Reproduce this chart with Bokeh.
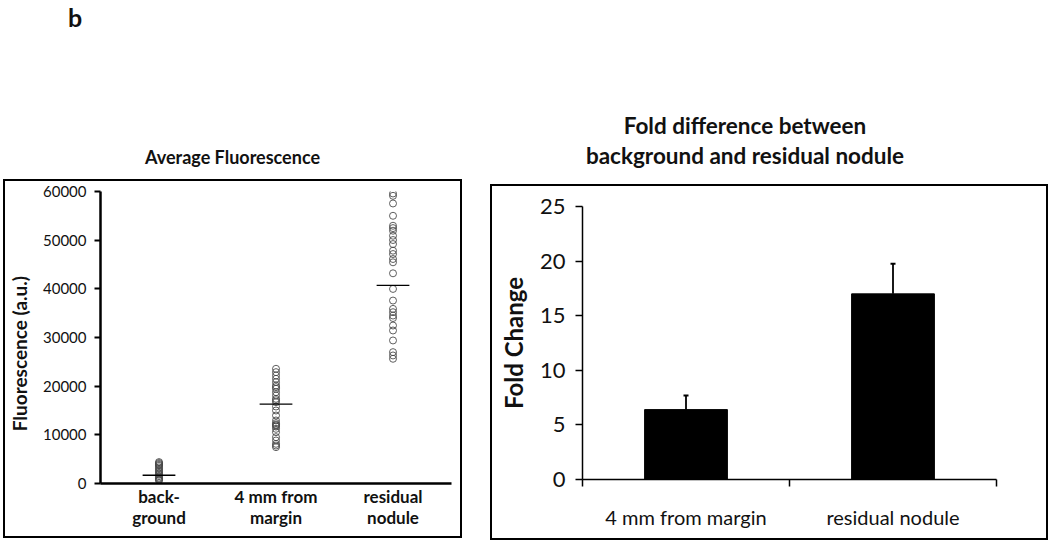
from bokeh.plotting import figure
from bokeh.models import Range1d, FixedTicker, Div, Row, Column
from bokeh.embed import file_html
from bokeh.resources import INLINE

FONT = "Lato"
INK = "#111111"

# ---------------- Left panel data ----------------
scatter_groups = ["back-\nground", "4 mm from\nmargin", "residual\nnodule"]
background = [4400, 4200, 4000, 3800, 3600, 3300, 3000, 2700, 2400, 2100,
              1800, 1500, 1200, 1000, 800, 600]
from_margin = [23570, 22880, 22190, 21510, 20820, 20140, 19800, 19460, 18770,
               18080, 17400, 17100, 16710, 15820, 15000, 13970, 12950, 12400,
               12100, 11920, 11700, 11230, 10550, 9520, 8840, 8150, 7800, 7470]
residual = [59590, 59110, 57540, 55010, 52960, 52480, 51940, 50910, 50030,
            49200, 47840, 47150, 46130, 45450, 43190, 39980, 37590, 35880,
            35200, 34510, 34000, 32460, 31440, 29390, 26990, 26310, 25630]
group_means = [1700, 16300, 40700]
left_y_ticks = [0, 10000, 20000, 30000, 40000, 50000, 60000]

# ---------------- Right panel data ----------------
bar_categories = ["4 mm from margin", "residual nodule"]
fold_change = [6.4, 17.0]
fold_error = [1.3, 2.75]
right_y_ticks = [0, 5, 10, 15, 20, 25]

# ---------------- Left panel ----------------
n1 = len(scatter_groups)
p1 = figure(width=459, height=359, x_range=Range1d(0, n1), y_range=Range1d(0, 60000),
            output_backend="svg", toolbar_location=None,
            min_border_left=95, min_border_right=13, min_border_top=10, min_border_bottom=57,
            styles={"border": "2px solid black"}, margin=0)
p1.grid.visible = False
p1.outline_line_color = None

pos1 = [i + 0.5 for i in range(n1)]
xs, ys = [], []
for i, vals in enumerate([background, from_margin, residual]):
    xs += [pos1[i]] * len(vals)
    ys += vals
p1.scatter(xs, ys, marker="circle", size=7, fill_color=None,
           line_color="#444444", line_width=1.0, line_alpha=0.85)
p1.segment(x0=[p - 0.14 for p in pos1], x1=[p + 0.14 for p in pos1],
           y0=group_means, y1=group_means, line_color="black", line_width=1.3)

ya = p1.yaxis[0]
ya.ticker = FixedTicker(ticks=left_y_ticks)
ya.axis_line_width = 2.5
ya.major_tick_line_width = 2
ya.major_tick_out = 6
ya.major_tick_in = 0
ya.minor_tick_line_color = None
ya.major_label_text_font = FONT
ya.major_label_text_font_size = "15px"
ya.major_label_text_color = INK
ya.major_label_standoff = 8
ya.axis_label = "Fluorescence (a.u.)" + "\u00a0" * 7
ya.axis_label_text_font = FONT
ya.axis_label_text_font_style = "bold"
ya.axis_label_text_font_size = "19px"
ya.axis_label_text_color = INK
ya.axis_label_standoff = 9

xa = p1.xaxis[0]
xa.ticker = FixedTicker(ticks=pos1)
xa.major_label_overrides = {p: g for p, g in zip(pos1, scatter_groups)}
xa.major_tick_line_color = None
xa.minor_tick_line_color = None
xa.major_tick_out = 0
xa.major_tick_in = 0
xa.axis_line_width = 2.5
xa.major_label_text_font = FONT
xa.major_label_text_font_style = "bold"
xa.major_label_text_font_size = "17px"
xa.major_label_text_color = INK
xa.major_label_text_line_height = 1.03
xa.major_label_standoff = 2

left_head = Div(width=459, height=179, margin=0, text=(
    '<div style="position:relative;width:459px;height:179px;font-family:Lato;color:#111;">'
    '<div style="position:absolute;left:65px;top:0px;font-weight:bold;font-size:25px;">b</div>'
    '<div style="position:absolute;left:0;width:459px;top:145px;text-align:center;'
    'font-weight:bold;font-size:18px;">Average Fluorescence</div>'
    '</div>'))

# ---------------- Right panel ----------------
n2 = len(bar_categories)
p2 = figure(width=558, height=356, x_range=Range1d(0, n2), y_range=Range1d(0, 25),
            output_backend="svg", toolbar_location=None,
            min_border_left=90, min_border_right=54, min_border_top=20, min_border_bottom=63,
            styles={"border": "2px solid black"}, margin=0)
p2.grid.visible = False
p2.outline_line_color = None

pos2 = [i + 0.5 for i in range(n2)]
tops = [v + e for v, e in zip(fold_change, fold_error)]
p2.vbar(x=pos2, top=fold_change, width=0.4, fill_color="black", line_color="black")
p2.segment(x0=pos2, x1=pos2, y0=fold_change, y1=tops, line_color="black", line_width=1.8)
p2.scatter(pos2, tops, marker="dash", size=5, line_color="black", line_width=2)

ya2 = p2.yaxis[0]
ya2.ticker = FixedTicker(ticks=right_y_ticks)
ya2.axis_line_width = 1.5
ya2.major_tick_line_width = 1.5
ya2.major_tick_out = 7
ya2.major_tick_in = 0
ya2.minor_tick_line_color = None
ya2.major_label_text_font = FONT
ya2.major_label_text_font_size = "22px"
ya2.major_label_text_color = INK
ya2.major_label_standoff = 10
ya2.axis_label = "Fold Change"
ya2.axis_label_text_font = FONT
ya2.axis_label_text_font_style = "bold"
ya2.axis_label_text_font_size = "24px"
ya2.axis_label_text_color = INK
ya2.axis_label_standoff = 9

xa2 = p2.xaxis[0]
xa2.ticker = FixedTicker(ticks=pos2, minor_ticks=list(range(n2 + 1)))
xa2.major_label_overrides = {p: c for p, c in zip(pos2, bar_categories)}
xa2.major_tick_line_color = None
xa2.major_tick_out = 0
xa2.major_tick_in = 0
xa2.minor_tick_line_color = "black"
xa2.minor_tick_line_width = 1.5
xa2.minor_tick_out = 7
xa2.minor_tick_in = 0
xa2.axis_line_width = 1.5
xa2.major_label_text_font = FONT
xa2.major_label_text_font_size = "20px"
xa2.major_label_text_color = INK
xa2.major_label_standoff = 18

right_head = Div(width=558, height=184, margin=0, text=(
    '<div style="position:relative;width:558px;height:184px;font-family:Lato;color:#111;">'
    '<div style="position:absolute;left:0;width:510px;top:111px;text-align:center;'
    'font-weight:bold;font-size:22.5px;line-height:30px;">'
    'Fold difference between<br>background and residual nodule</div>'
    '</div>'))

left_col = Column(children=[left_head, p1], spacing=0, margin=0)
right_col = Column(children=[right_head, p2], spacing=0, margin=0)
layout = Row(children=[left_col, right_col], spacing=28, margin=(0, 0, 0, 3))

open("out.html", "w").write(file_html(layout, INLINE))
